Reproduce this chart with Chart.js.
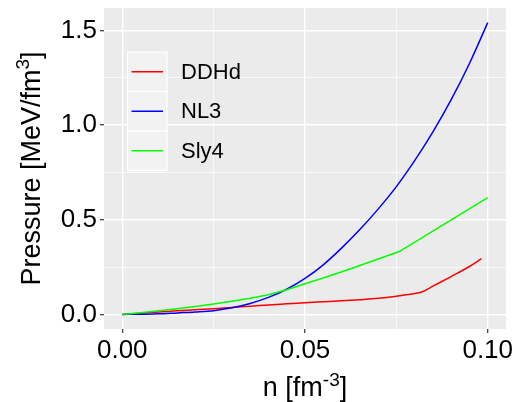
<!DOCTYPE html>
<html><head><meta charset="utf-8">
<script src="https://cdn.jsdelivr.net/npm/chart.js@4/dist/chart.umd.min.js"></script>
<style>html,body{margin:0;padding:0;background:#fff;}</style>
</head><body>
<canvas id="c" width="519" height="402"></canvas>
<script>
// ---- data ----
const seriesNames = ['DDHd', 'NL3', 'Sly4'];
const seriesColors = ['#FF0000', '#0000FF', '#00FF00'];

const nDDHd = [0, 0.005, 0.01, 0.015, 0.02, 0.025, 0.03, 0.035, 0.04, 0.045, 0.05, 0.055, 0.06, 0.065, 0.07, 0.075, 0.08, 0.0823, 0.085, 0.09, 0.095, 0.0983];
const pDDHd = [0, 0.006, 0.013, 0.019, 0.025, 0.030, 0.037, 0.043, 0.050, 0.056, 0.062, 0.067, 0.072, 0.078, 0.085, 0.096, 0.110, 0.121, 0.149, 0.200, 0.253, 0.294];

const nNL3 = [0, 0.005, 0.01, 0.015, 0.02, 0.025, 0.03, 0.035, 0.04, 0.045, 0.05, 0.055, 0.06, 0.065, 0.07, 0.075, 0.08, 0.085, 0.09, 0.095, 0.10];
const pNL3 = [0, 0.001, 0.003, 0.008, 0.013, 0.020, 0.035, 0.058, 0.090, 0.133, 0.190, 0.262, 0.350, 0.448, 0.556, 0.675, 0.812, 0.964, 1.134, 1.325, 1.541];

const nSly4 = [0, 0.005, 0.01, 0.015, 0.02, 0.025, 0.03, 0.035, 0.04, 0.045, 0.05, 0.055, 0.0623, 0.0758, 0.10];
const pSly4 = [0, 0.009, 0.019, 0.030, 0.042, 0.055, 0.069, 0.085, 0.104, 0.130, 0.162, 0.192, 0.240, 0.332, 0.617];

const xMajorTicks = [0, 0.05, 0.10];
const xMinorTicks = [0.025, 0.075];
const xTickLabels = ['0.00', '0.05', '0.10'];
const yMajorTicks = [0, 0.5, 1.0, 1.5];
const yMinorTicks = [0.25, 0.75, 1.25];
const yTickLabels = ['0.0', '0.5', '1.0', '1.5'];

const xTitle = ['n [fm', '-3', ']'];
const yTitle = ['Pressure [MeV/fm', '3', ']'];

// ---- chart ----
const FONT = "'Liberation Sans', Arial, sans-serif";
const near = (a, b) => Math.abs(a - b) < 1e-9;
const majorIdx = (list, v) => list.findIndex(t => near(t, v));

function pts(xs, ys) { return xs.map((x, i) => ({ x: x, y: ys[i] })); }
const nList = [nDDHd, nNL3, nSly4];
const pList = [pDDHd, pNL3, pSly4];
const interp = ['monotone', 'monotone', 'default'];

const datasets = seriesNames.map((name, i) => ({
  label: name,
  data: pts(nList[i], pList[i]),
  borderColor: seriesColors[i],
  backgroundColor: seriesColors[i],
  borderWidth: 1.5,
  pointRadius: 0,
  showLine: true,
  fill: false,
  tension: 0,
  cubicInterpolationMode: interp[i],
  order: seriesNames.length - i
}));

const panelBg = {
  id: 'panelBg',
  beforeDraw(chart) {
    const a = chart.chartArea, ctx = chart.ctx;
    ctx.save();
    ctx.fillStyle = '#EBEBEB';
    ctx.fillRect(a.left, a.top, a.right - a.left, a.bottom - a.top);
    ctx.restore();
  }
};

function drawSupText(ctx, parts, size, supSize, raise) {
  ctx.font = size + 'px ' + FONT;
  const w0 = ctx.measureText(parts[0]).width;
  const w2 = ctx.measureText(parts[2]).width;
  ctx.font = supSize + 'px ' + FONT;
  const w1 = ctx.measureText(parts[1]).width;
  const total = w0 + w1 + w2;
  let x = -total / 2;
  ctx.textBaseline = 'alphabetic';
  ctx.textAlign = 'left';
  ctx.fillStyle = '#000';
  ctx.font = size + 'px ' + FONT;
  ctx.fillText(parts[0], x, 0); x += w0;
  ctx.font = supSize + 'px ' + FONT;
  ctx.fillText(parts[1], x, -raise); x += w1;
  ctx.font = size + 'px ' + FONT;
  ctx.fillText(parts[2], x, 0);
}

const axisTitles = {
  id: 'axisTitles',
  afterDraw(chart) {
    const a = chart.chartArea, ctx = chart.ctx;
    ctx.save();
    ctx.translate((a.left + a.right) / 2, 396);
    drawSupText(ctx, xTitle, 27, 19, 10);
    ctx.restore();
    ctx.save();
    ctx.translate(40, (a.top + a.bottom) / 2);
    ctx.rotate(-Math.PI / 2);
    drawSupText(ctx, yTitle, 27, 19, 11);
    ctx.restore();
  }
};

const legendBox = {
  id: 'legendBox',
  afterDatasetsDraw(chart) {
    const ctx = chart.ctx;
    const x0 = 127.5, y0 = 52, kw = 39.5, kh = 39.5;
    ctx.save();
    seriesNames.forEach((name, i) => {
      const y = y0 + i * kh;
      ctx.fillStyle = '#F2F2F2';
      ctx.fillRect(x0, y, kw, kh);
      ctx.strokeStyle = '#FFFFFF';
      ctx.lineWidth = 1.2;
      ctx.strokeRect(x0, y, kw, kh);
      ctx.strokeStyle = seriesColors[i];
      ctx.lineWidth = 1.5;
      ctx.beginPath();
      ctx.moveTo(x0 + 4, y + kh / 2);
      ctx.lineTo(x0 + kw - 4, y + kh / 2);
      ctx.stroke();
      ctx.fillStyle = '#000';
      ctx.font = '22px ' + FONT;
      ctx.textAlign = 'left';
      ctx.textBaseline = 'middle';
      ctx.fillText(name, 181, y + kh / 2 + 1);
    });
    ctx.restore();
  }
};

function setTicks(major, minor) {
  return function (scale) {
    const vals = major.concat(minor).sort((a, b) => a - b);
    scale.ticks = vals.map(v => ({ value: v }));
  };
}

new Chart(document.getElementById('c'), {
  type: 'scatter',
  data: { datasets: datasets },
  plugins: [panelBg, axisTitles, legendBox],
  options: {
    responsive: false,
    animation: false,
    devicePixelRatio: 1,
    layout: { padding: { left: 0, right: 13, top: 8, bottom: 0 } },
    plugins: { legend: { display: false }, tooltip: { enabled: false } },
    scales: {
      x: {
        type: 'linear',
        min: -0.005, max: 0.105,
        afterBuildTicks: setTicks(xMajorTicks, xMinorTicks),
        afterFit(scale) { scale.height = 73; scale.paddingLeft = 0; scale.paddingRight = 0; },
        border: { display: false },
        grid: {
          color: '#FFFFFF',
          lineWidth: c => majorIdx(xMajorTicks, c.tick.value) >= 0 ? 1.4 : 0.7,
          drawTicks: true,
          tickLength: 4,
          tickColor: c => majorIdx(xMajorTicks, c.tick.value) >= 0 ? '#333333' : 'rgba(0,0,0,0)',
          tickWidth: 1.2
        },
        ticks: {
          autoSkip: false,
          maxRotation: 0,
          padding: 2,
          color: '#000',
          font: { family: FONT, size: 26 },
          callback: v => { const k = majorIdx(xMajorTicks, v); return k >= 0 ? xTickLabels[k] : ''; }
        }
      },
      y: {
        type: 'linear',
        min: -0.077, max: 1.618,
        afterBuildTicks: setTicks(yMajorTicks, yMinorTicks),
        afterFit(scale) { scale.width = 104; scale.paddingTop = 0; scale.paddingBottom = 0; },
        border: { display: false },
        grid: {
          color: '#FFFFFF',
          lineWidth: c => majorIdx(yMajorTicks, c.tick.value) >= 0 ? 1.4 : 0.7,
          drawTicks: true,
          tickLength: 4,
          tickColor: c => majorIdx(yMajorTicks, c.tick.value) >= 0 ? '#333333' : 'rgba(0,0,0,0)',
          tickWidth: 1.2
        },
        ticks: {
          autoSkip: false,
          padding: 3,
          color: '#000',
          font: { family: FONT, size: 26 },
          callback: v => { const k = majorIdx(yMajorTicks, v); return k >= 0 ? yTickLabels[k] : ''; }
        }
      }
    }
  }
});
</script>
</body></html>
